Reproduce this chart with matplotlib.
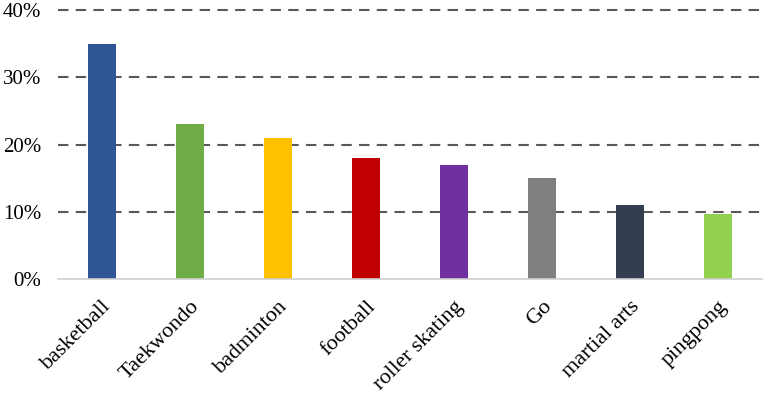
import matplotlib.pyplot as plt
from matplotlib.ticker import PercentFormatter

# sports and share of students
sports = ['basketball', 'Taekwondo', 'badminton', 'football', 'roller skating', 'Go', 'martial arts', 'pingpong']
share = [35, 23, 21, 18, 17, 15, 11, 9.7]
colors = ['#2F5597', '#70AD47', '#FFC000', '#C00000', '#7030A0', '#7F7F7F', '#333F50', '#92D050']

plt.rcParams['font.family'] = ['Liberation Serif', 'DejaVu Serif']

fig = plt.figure(figsize=(7.65, 3.94), dpi=100)
ax = fig.add_axes([58/765, 1 - 279/394, 704/765, (279 - 10)/394])

x = range(len(sports))
ax.bar(x, share, width=0.31, color=colors, zorder=3)

ax.set_xlim(-0.5, len(sports) - 0.5)
ax.set_ylim(0, 40)
ax.set_yticks([0, 10, 20, 30, 40])
ax.yaxis.set_major_formatter(PercentFormatter(decimals=0))
ax.yaxis.grid(True, linestyle=(0, (5, 3.5)), color='#595959', linewidth=1.5, zorder=0)
grid = ax.get_ygridlines()
for gl in grid:
    gl.set_clip_on(False)
grid[0].set_visible(False)  # baseline instead of dashed line at 0%

ax.set_xticks(list(x))
ax.set_xticklabels(sports, rotation=45, ha='right', rotation_mode='anchor')
ax.tick_params(axis='x', length=0, labelsize=16, pad=13, colors='black')
ax.tick_params(axis='y', length=0, labelsize=15, pad=12, colors='black')

for s in ['top', 'right', 'left']:
    ax.spines[s].set_visible(False)
ax.spines['bottom'].set_color('#D0D0D0')
ax.spines['bottom'].set_linewidth(1.2)
ax.spines['bottom'].set_zorder(4)

fig.savefig('out.png', dpi=100)
